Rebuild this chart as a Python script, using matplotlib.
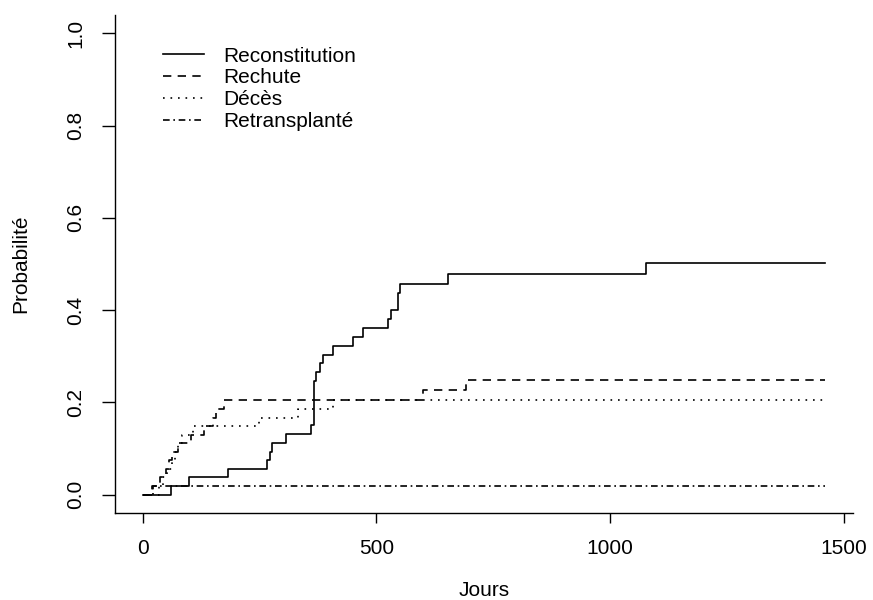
import matplotlib
matplotlib.use("Agg")
import matplotlib.pyplot as plt

# ---- data ----
recon_days = [0, 61, 100, 182, 266, 273, 276, 307, 361, 366, 370, 380, 386, 407,
              451, 471, 525, 532, 546, 550, 654, 1077, 1461]
recon_vals = [0.0, 0.019, 0.037, 0.056, 0.074, 0.093, 0.111, 0.132, 0.150, 0.247,
              0.265, 0.285, 0.303, 0.323, 0.341, 0.361, 0.381, 0.401, 0.438, 0.456,
              0.479, 0.502, 0.502]

rechute_days = [0, 20, 38, 50, 57, 63, 75, 104, 132, 150, 158, 175, 601, 691, 1461]
rechute_vals = [0.0, 0.019, 0.037, 0.056, 0.074, 0.093, 0.111, 0.130, 0.148, 0.167,
                0.185, 0.204, 0.227, 0.249, 0.249]

deces_days = [0, 35, 43, 52, 62, 70, 76, 85, 107, 250, 332, 407, 1461]
deces_vals = [0.0, 0.019, 0.037, 0.056, 0.074, 0.093, 0.111, 0.130, 0.148, 0.167,
              0.185, 0.204, 0.204]

retrans_days = [0, 22, 1461]
retrans_vals = [0.0, 0.0185, 0.0185]

series_labels = ["Reconstitution", "Rechute", "Décès", "Retransplanté"]
x_ticks = [0, 500, 1000, 1500]
y_ticks = [0.0, 0.2, 0.4, 0.6, 0.8, 1.0]
x_label = "Jours"
y_label = "Probabilité"

# ---- figure ----
plt.rcParams['font.family'] = ['Liberation Sans', 'DejaVu Sans']
FS = 15

W, H = 873, 600
fig = plt.figure(figsize=(W / 100, H / 100), dpi=100)
left, right, top, bottom = 115, 853, 15, 513
ax = fig.add_axes([left / W, 1 - bottom / H, (right - left) / W, (bottom - top) / H])

styles = ['-', (0, (5, 3.8)), (0, (1, 3.5)), (0, (4, 2.2, 1, 2.2))]
data = [(recon_days, recon_vals), (rechute_days, rechute_vals),
        (deces_days, deces_vals), (retrans_days, retrans_vals)]
for (d, v), ls, lab in zip(data, styles, series_labels):
    ax.step(d, v, where='post', color='black', lw=1.2, linestyle=ls, label=lab)

ax.set_xlim(-59, 1520)
ax.set_ylim(-0.04, 1.04)

for s in ['top', 'right']:
    ax.spines[s].set_visible(False)
for s in ['left', 'bottom']:
    ax.spines[s].set_linewidth(1.0)
    ax.spines[s].set_color('black')

ax.set_xticks(x_ticks)
ax.set_xticklabels([str(t) for t in x_ticks])
ax.set_yticks(y_ticks)
ax.set_yticklabels([f"{t:.1f}" for t in y_ticks])
ax.tick_params(axis='x', length=7.5, width=1.0, pad=11, labelsize=FS, colors='black')
ax.tick_params(axis='y', length=9.4, width=1.0, pad=12, labelsize=FS, colors='black')
for lbl in ax.get_yticklabels():
    lbl.set_rotation(90)
    lbl.set_va('center')
    lbl.set_ha('right')

ax.set_xlabel(x_label, fontsize=FS, va='center')
ax.xaxis.set_label_coords(0.5, (bottom - 591) / (bottom - top))
ax.set_ylabel(y_label, fontsize=FS, va='center')
ax.yaxis.set_label_coords((21 - left) / (right - left), 0.5)

leg = ax.legend(loc='upper left', bbox_to_anchor=((163 - left) / (right - left), (bottom - 46.5) / (bottom - top)),
                frameon=False, fontsize=FS, handlelength=1.95, handletextpad=0.95,
                labelspacing=0.14, borderaxespad=0.0, borderpad=0.0)

fig.savefig("out.png", dpi=100, facecolor='white')
